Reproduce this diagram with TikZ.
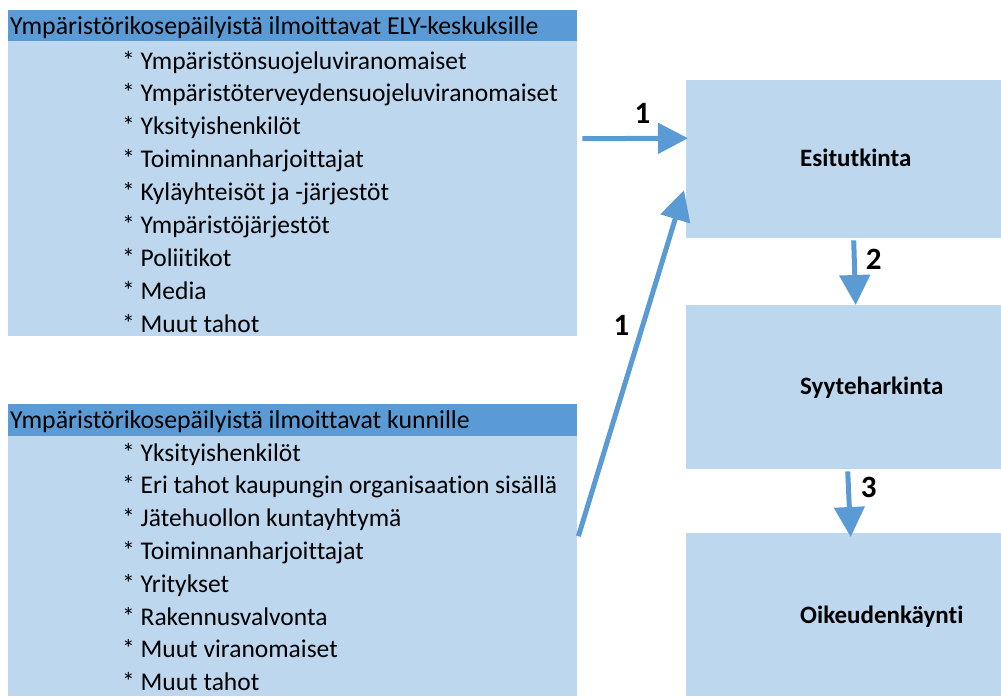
\documentclass[tikz,border=0pt]{standalone}
\usepackage{fontspec}
\setmainfont[Ligatures=NoCommon]{Carlito}
\usepackage{tikz}
\usetikzlibrary{arrows.meta}
\definecolor{kbar}{HTML}{5B9BD5}
\definecolor{kbox}{HTML}{BDD7EE}

\begin{document}
\begin{tikzpicture}[x=1pt,y=-1pt,
    boxfill/.style={fill=kbox, draw=none, inner sep=0pt, anchor=north west},
    barfill/.style={fill=kbar, draw=none, inner sep=0pt, anchor=north west},
    item/.style={anchor=base west, inner sep=0pt, font=\fontsize{25.5}{30}\selectfont},
    title/.style={anchor=west, inner sep=0pt, font=\fontsize{25.8}{30}\selectfont},
    stage/.style={anchor=west, inner sep=0pt, font=\bfseries\fontsize{25}{30}\selectfont},
    num/.style={inner sep=0pt, font=\bfseries\fontsize{31}{34}\selectfont},
    flow/.style={draw=kbar, line width=5pt, -{Triangle[width=30pt,length=30pt]}}]
			\useasboundingbox (0,0) rectangle (1001,696);
			% left boxes
			\node[boxfill, minimum width=569pt, minimum height=295pt] (elybody) at (8,41) {};
			\node[barfill, minimum width=569pt, minimum height=31pt] (elyhead) at (8,10) {};
			\node[boxfill, minimum width=569pt, minimum height=260pt] (kuntbody) at (8,436) {};
			\node[barfill, minimum width=569pt, minimum height=32pt] (kunthead) at (8,404) {};
			\node[title] (elytitle) at (10,28) {Ympäristörikosepäilyistä ilmoittavat ELY-keskuksille};
			\node[title] (kunttitle) at (10,422) {Ympäristörikosepäilyistä ilmoittavat kunnille};
			\foreach \t [count=\i] in {Ympäristönsuojeluviranomaiset, Ympäristöterveydensuojeluviranomaiset,
				Yksityishenkilöt, Toiminnanharjoittajat, Kyläyhteisöt ja -järjestöt, Ympäristöjärjestöt,
				Poliitikot, Media, Muut tahot}
				\node[item] (ely\i) at (122,{69+32.9*(\i-1)}) {* \t};
			\foreach \t [count=\i] in {Yksityishenkilöt, Eri tahot kaupungin organisaation sisällä,
				Jätehuollon kuntayhtymä, Toiminnanharjoittajat, Yritykset, Rakennusvalvonta,
				Muut viranomaiset, Muut tahot}
				\node[item] (kunt\i) at (122,{461+32.8*(\i-1)}) {* \t};
			% right boxes
			\node[boxfill, minimum width=315pt, minimum height=158pt] (esi) at (686,80) {};
			\node[boxfill, minimum width=315pt, minimum height=164pt] (syyte) at (686,305) {};
			\node[boxfill, minimum width=315pt, minimum height=163pt] (oik) at (686,533) {};
			\node[stage] (esitxt) at (800,158) {Esitutkinta};
			\node[stage] (syytetxt) at (800,388) {Syyteharkinta};
			\node[stage] (oiktxt) at (800,617) {Oikeudenkäynti};
			% arrows
			\draw[flow] ([shift={(5,-50)}]elybody.east) -- ([shift={(2,-21)}]esi.west)
				node[num, pos=0.57, above=12pt] (n1a) {1};
			\draw[flow] ([shift={(1,-30)}]kuntbody.east) -- ([shift={(-2,31)}]esi.west)
				node[num, pos=0.61, left=11pt] (n1b) {1};
			\draw[flow] ([shift={(10,2)}]esi.south) -- ([shift={(12,0)}]syyte.north)
				node[num, pos=0.3, right=9pt] (n2) {2};
			\draw[flow] ([shift={(4,2)}]syyte.south) -- ([shift={(7,4)}]oik.north)
				node[num, pos=0.25, right=10pt] (n3) {3};
		\end{tikzpicture}
\end{document}
